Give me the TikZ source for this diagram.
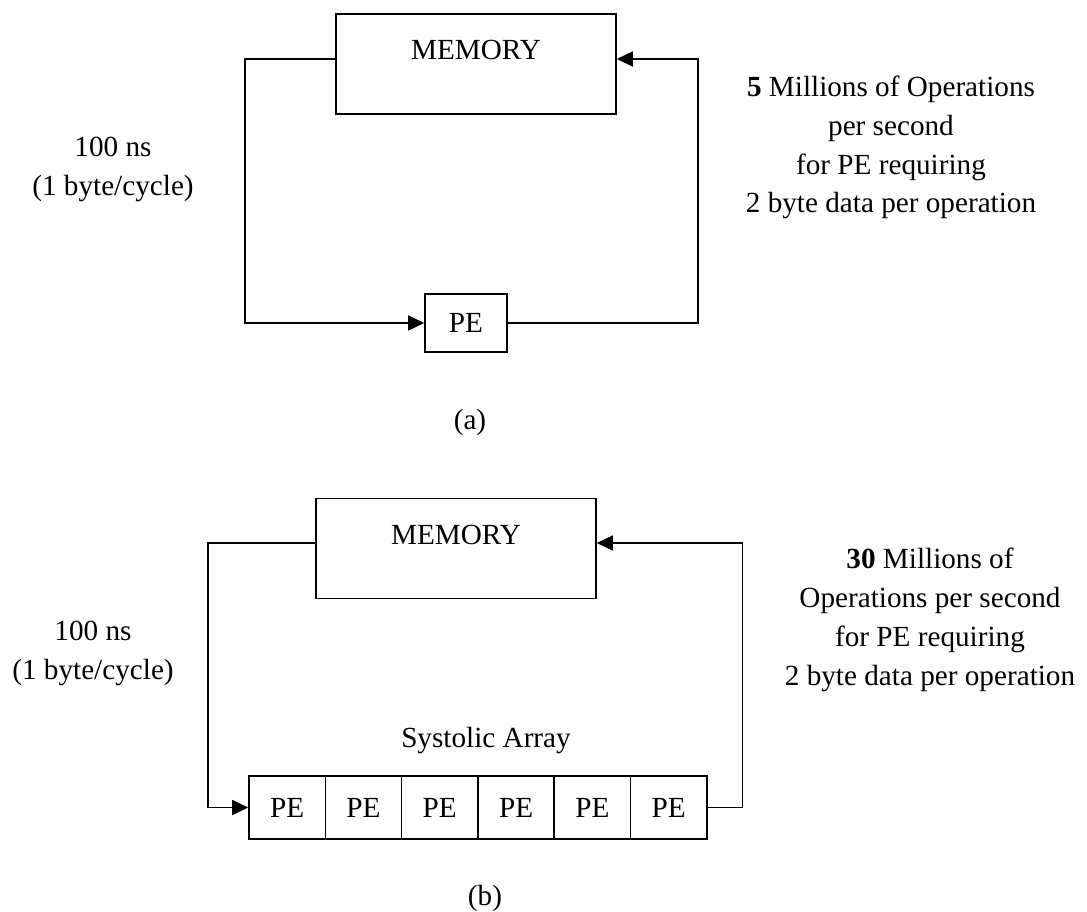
\documentclass[tikz,border=0pt]{standalone}
\usepackage{fontspec}
\setmainfont{Liberation Serif}
\usetikzlibrary{arrows.meta}
\begin{document}
\begin{tikzpicture}[x=1pt, y=-1pt, line width=1.6pt,
  font=\fontsize{29.2}{38.7}\selectfont,
  box/.style={draw, inner sep=0pt},
  membox/.style={box, minimum width=280pt, minimum height=100pt, text height=20pt, text depth=28pt},
  pebox/.style={box, minimum width=82pt, minimum height=58pt},
  cell/.style={box, minimum width=76.3pt, minimum height=63pt},
  flow/.style={-{Triangle[length=16pt,width=15pt]}},
  note/.style={align=center, inner sep=0pt, anchor=base}]
\useasboundingbox (0,0) rectangle (1087,912);

% (a) single processing element
% (multi-line notes are placed by the baseline of their last line)
\node[membox] (mema) at (476,64) {MEMORY};
\node[pebox] (pea) at (466,323) {PE};
\draw[flow] ([yshift=5pt]mema.west) -- ++(-90,0) |- (pea.west);
\draw[flow] (pea.east) -- ++(190,0) |- ([yshift=5pt]mema.east);
\node[note] (lata) at (113,195.7) {100 ns\\(1 byte/cycle)};
\node[note] (rate) at (891,213) {\textbf{5} Millions of Operations\\per second\\for PE requiring\\2 byte data per operation};
\node[note] (capa) at (470,429.5) {(a)};

% (b) systolic array of six processing elements
\node[membox, text depth=29pt] (memb) at (456,548.5) {MEMORY};
\foreach \i in {1,...,6}
  \node[cell] (c\i) at ({287.15+(\i-1)*76.3},807.5) {PE};
\draw[flow] ([yshift=5.5pt]memb.west) -- ++(-107,0) |- (c1.west);
\draw[flow] (c6.east) -- ++(35,0) |- ([yshift=5.5pt]memb.east);
\node[note] (sysl) at (486,747) {Systolic Array};
\node[note] (latb) at (93,679) {100 ns\\(1 byte/cycle)};
\node[note] (rateb) at (930,685) {\textbf{30} Millions of\\Operations per second\\for PE requiring\\2 byte data per operation};
\node[note] (capb) at (485,905) {(b)};
\end{tikzpicture}
\end{document}
